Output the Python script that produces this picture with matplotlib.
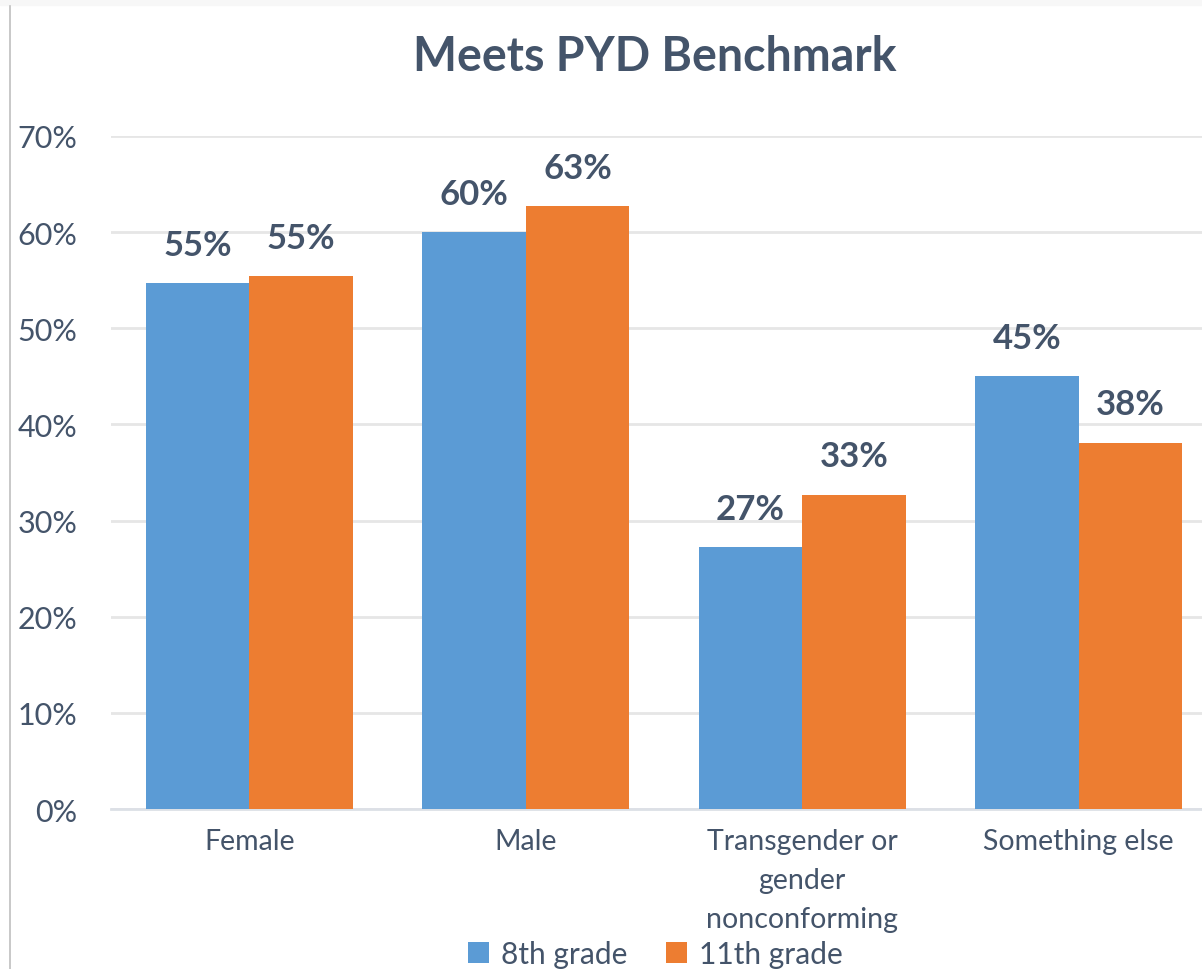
import numpy as np
import matplotlib.pyplot as plt
from matplotlib.patches import Rectangle
from matplotlib.lines import Line2D

plt.rcParams['font.family'] = ['Lato', 'DejaVu Sans']

# Data
categories = ["Female", "Male", "Transgender or\ngender\nnonconforming", "Something else"]
grade8 = [0.547, 0.600, 0.272, 0.450]
grade11 = [0.554, 0.627, 0.327, 0.381]
series_names = ["8th grade", "11th grade"]
yticks = [0, 0.1, 0.2, 0.3, 0.4, 0.5, 0.6, 0.7]

blue = '#5B9BD5'
orange = '#ED7D31'
text_col = '#44546A'

fig = plt.figure(figsize=(12.02, 9.70), dpi=100)
W, H = 1202, 970

# axes: x from 111px, y zero at 810px, 70% at 137px
ax = fig.add_axes([111 / W, 1 - 810 / H, (W - 111) / W, (810 - 137) / H])
ax.set_ylim(0, 0.7)
ax.set_xlim(-0.5, 3.446)

x = np.arange(len(categories))
w = 0.375
b1 = ax.bar(x - w / 2, grade8, w, color=blue, label=series_names[0], zorder=3)
b2 = ax.bar(x + w / 2, grade11, w, color=orange, label=series_names[1], zorder=3)

for bars in (b1, b2):
    for r in bars:
        ax.annotate('{:.0f}%'.format(r.get_height() * 100),
                    (r.get_x() + r.get_width() / 2, r.get_height()),
                    xytext=(0, 16), textcoords='offset points',
                    ha='center', va='bottom', fontsize=25, fontweight='bold',
                    color=text_col)

ax.set_yticks(yticks)
ax.set_yticklabels(['{:.0f}%'.format(t * 100) for t in yticks])
ax.set_xticks(x)
ax.set_xticklabels(categories, linespacing=1.6)
ax.tick_params(axis='y', length=0, labelsize=22, labelcolor=text_col, pad=24)
ax.tick_params(axis='x', length=0, labelsize=20.5, labelcolor=text_col, pad=14)
ax.grid(axis='y', color='#E6E6E6', linewidth=2, zorder=0)
for s in ['top', 'right', 'left']:
    ax.spines[s].set_visible(False)
ax.spines['bottom'].set_color('#DCE0E6')
ax.spines['bottom'].set_linewidth(2)
ax.set_facecolor('none')

fig.text(655 / W, 1 - 57 / H, "Meets PYD Benchmark", ha='center', va='center',
         fontsize=33.5, fontweight='bold', color=text_col)

# slide frame bits: grey top band and left border line
fig.patches.append(Rectangle((0, 1 - 6 / H), 1, 6 / H, transform=fig.transFigure,
                             color='#F7F7F7', zorder=0))
fig.lines.append(Line2D([10 / W, 10 / W], [0, 1 - 7 / H], transform=fig.transFigure,
                        color='#BFBFBF', linewidth=1.2))

fig.legend(handles=[b1, b2], loc='center', bbox_to_anchor=(655 / W, 1 - 955 / H),
           ncol=2, frameon=False, fontsize=21.5, labelcolor=text_col,
           handlelength=0.7, handleheight=0.7, handletextpad=0.4, columnspacing=1.3)

fig.savefig('out.png', dpi=100)
